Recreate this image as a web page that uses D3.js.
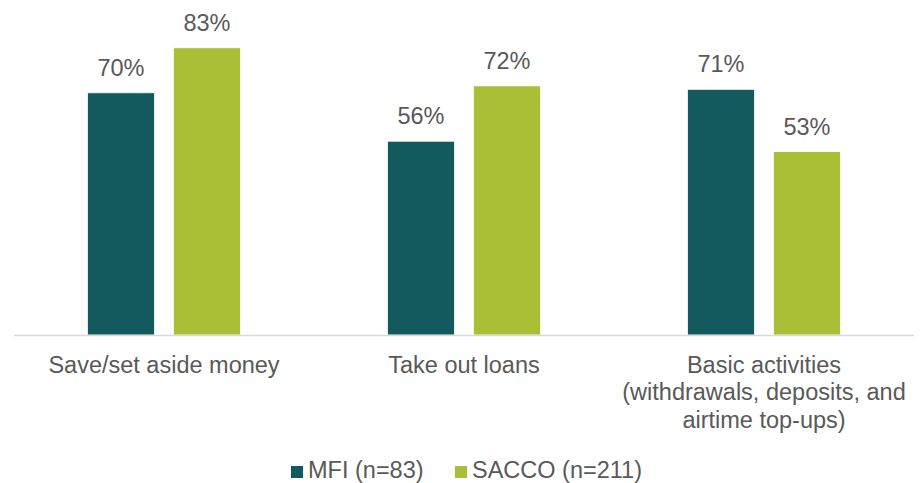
<!DOCTYPE html>
<html>
<head>
<meta charset="utf-8">
<script src="https://cdn.jsdelivr.net/npm/d3@7"></script>
<style>
  body { margin: 0; background: #fff; }
  svg { display: block; font-family: "Liberation Sans", Arial, sans-serif; }
</style>
</head>
<body>
<svg width="922" height="483"></svg>
<script>
let categories = [
  ["Save/set aside money"],
  ["Take out loans"],
  ["Basic activities", "(withdrawals, deposits, and", "airtime top-ups)"]
];
let series = ["MFI (n=83)", "SACCO (n=211)"];
let mfi = [70, 56, 71],
    sacco = [83, 72, 53];
let colors = ["#135a5f", "#aabe36"];

let svg = d3.select("svg"),
    baseline = 335;

let x0 = d3.scaleBand()
    .domain(d3.range(categories.length))
    .range([14, 914]);

let x1 = d3.scaleBand()
    .domain(d3.range(series.length))
    .range([0, x0.bandwidth()])
    .paddingInner(0.221)
    .paddingOuter(0.855);

let y = d3.scaleLinear()
    .domain([0, 100])
    .range([baseline, baseline - 346]);

let values = [mfi, sacco];

let groups = svg.selectAll(".group")
    .data(categories)
  .enter().append("g")
    .attr("class", "group")
    .attr("transform", function(d, i) { return "translate(" + x0(i) + ",0)"; });

groups.selectAll("rect")
    .data(function(d, i) { return values.map(function(v, s) { return {s: s, v: v[i]}; }); })
  .enter().append("rect")
    .attr("x", function(d) { return x1(d.s); })
    .attr("y", function(d) { return y(d.v); })
    .attr("width", x1.bandwidth())
    .attr("height", function(d) { return baseline - y(d.v); })
    .attr("fill", function(d) { return colors[d.s]; })
    .attr("stroke", "#fff")
    .attr("stroke-width", 0.75);

groups.selectAll(".value")
    .data(function(d, i) { return values.map(function(v, s) { return {s: s, v: v[i]}; }); })
  .enter().append("text")
    .attr("class", "value")
    .attr("x", function(d) { return x1(d.s) + x1.bandwidth() / 2; })
    .attr("y", function(d) { return y(d.v) - 17; })
    .attr("text-anchor", "middle")
    .attr("fill", "#595959")
    .style("font-size", "23.5px")
    .text(function(d) { return d.v + "%"; });

// axis line
svg.append("line")
    .attr("x1", x0.range()[0])
    .attr("x2", x0.range()[1])
    .attr("y1", baseline + 0.5)
    .attr("y2", baseline + 0.5)
    .attr("stroke", "#d9d9d9")
    .attr("stroke-width", 1.5);

groups.append("text")
    .attr("text-anchor", "middle")
    .attr("fill", "#595959")
    .style("font-size", "23.5px")
    .selectAll("tspan")
    .data(function(d) { return d; })
  .enter().append("tspan")
    .attr("x", x0.bandwidth() / 2)
    .attr("y", function(d, i) { return 372.5 + i * 27.5; })
    .text(function(d) { return d; });

// legend
let legendX = [291, 455];
let legend = svg.selectAll(".legend")
    .data(series)
  .enter().append("g")
    .attr("class", "legend")
    .attr("transform", function(d, i) { return "translate(" + legendX[i] + ",0)"; });

legend.append("rect")
    .attr("x", 0)
    .attr("y", 466)
    .attr("width", 12)
    .attr("height", 12)
    .attr("fill", function(d, i) { return colors[i]; });

legend.append("text")
    .attr("x", 17)
    .attr("y", 478)
    .attr("fill", "#595959")
    .style("font-size", "23.5px")
    .text(function(d) { return d; });
</script>
</body>
</html>
